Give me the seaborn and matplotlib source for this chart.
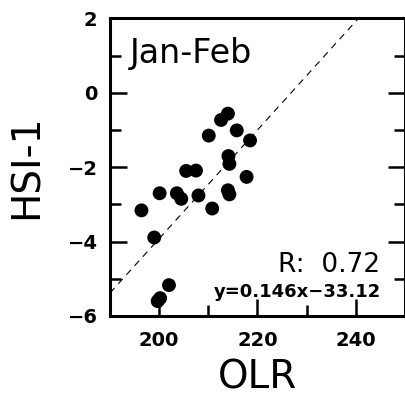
import numpy as np
import pandas as pd
import matplotlib
matplotlib.use("Agg")
import matplotlib.pyplot as plt
import seaborn as sns
from matplotlib.ticker import MultipleLocator

olr = [196.4, 199.0, 200.1, 199.7, 200.2, 202.0, 203.6, 204.5, 205.5, 207.5,
       208.0, 210.1, 210.8, 212.6, 214.0, 215.8, 218.5, 214.1, 214.3, 214.0,
       214.3, 217.8]
hsi = [-3.16, -3.89, -2.70, -5.60, -5.52, -5.17, -2.70, -2.85, -2.10, -2.09,
       -2.76, -1.15, -3.11, -0.73, -0.56, -1.01, -1.28, -1.70, -1.91, -2.62,
       -2.73, -2.26]
slope = 0.146
intercept = -33.12
r_value = 0.72
title = "Jan-Feb"

df = pd.DataFrame({"OLR": olr, "HSI-1": hsi})

sns.set_style("ticks")
plt.rcParams['font.family'] = ['DejaVu Sans']
plt.rcParams['text.color'] = 'black'
plt.rcParams['axes.labelcolor'] = 'black'
plt.rcParams['xtick.color'] = 'black'
plt.rcParams['ytick.color'] = 'black'
plt.rcParams['axes.edgecolor'] = 'black'

fig = plt.figure(figsize=(4.06, 4.01), dpi=100)
ax = fig.add_axes([0.271, 0.212, 0.726, 0.742])

sns.scatterplot(data=df, x="OLR", y="HSI-1", ax=ax, color="black", s=100,
                edgecolor="none", zorder=3, clip_on=False)

xl = np.array([190, 250])
ax.plot(xl, slope * xl + intercept, color="black", lw=0.8, ls=(0, (6, 5)), zorder=2)

ax.set_xlim(190, 250)
ax.set_ylim(-6, 2)
ax.xaxis.set_major_locator(MultipleLocator(20))
ax.xaxis.set_minor_locator(MultipleLocator(10))
ax.yaxis.set_major_locator(MultipleLocator(2))
ax.yaxis.set_minor_locator(MultipleLocator(1))
ax.tick_params(which="major", direction="in", length=12, width=1.8,
               labelsize=14, right=True, top=False)
ax.tick_params(axis="x", which="major", pad=11)
ax.tick_params(axis="y", which="major", pad=9)
ax.tick_params(which="minor", direction="in", length=8, width=1.8,
               right=True, top=False)
for lab in ax.get_xticklabels() + ax.get_yticklabels():
    lab.set_fontweight("bold")
for sp in ax.spines.values():
    sp.set_visible(True)
    sp.set_linewidth(2.2)

ax.set_xlabel("OLR", fontsize=28, labelpad=6)
ax.set_ylabel("HSI-1", fontsize=28, labelpad=16)

ax.text(0.068, 0.85, title, transform=ax.transAxes, fontsize=24, ha="left", va="baseline")
ax.text(0.915, 0.149, f"R:  {r_value:.2f}", transform=ax.transAxes, fontsize=19,
        ha="right", va="baseline")
ax.text(0.921, 0.065, f"y={slope:.3f}x\u2212{abs(intercept):.2f}", transform=ax.transAxes,
        fontsize=13, ha="right", va="baseline", fontweight="bold")

fig.savefig("out.png", dpi=100)
